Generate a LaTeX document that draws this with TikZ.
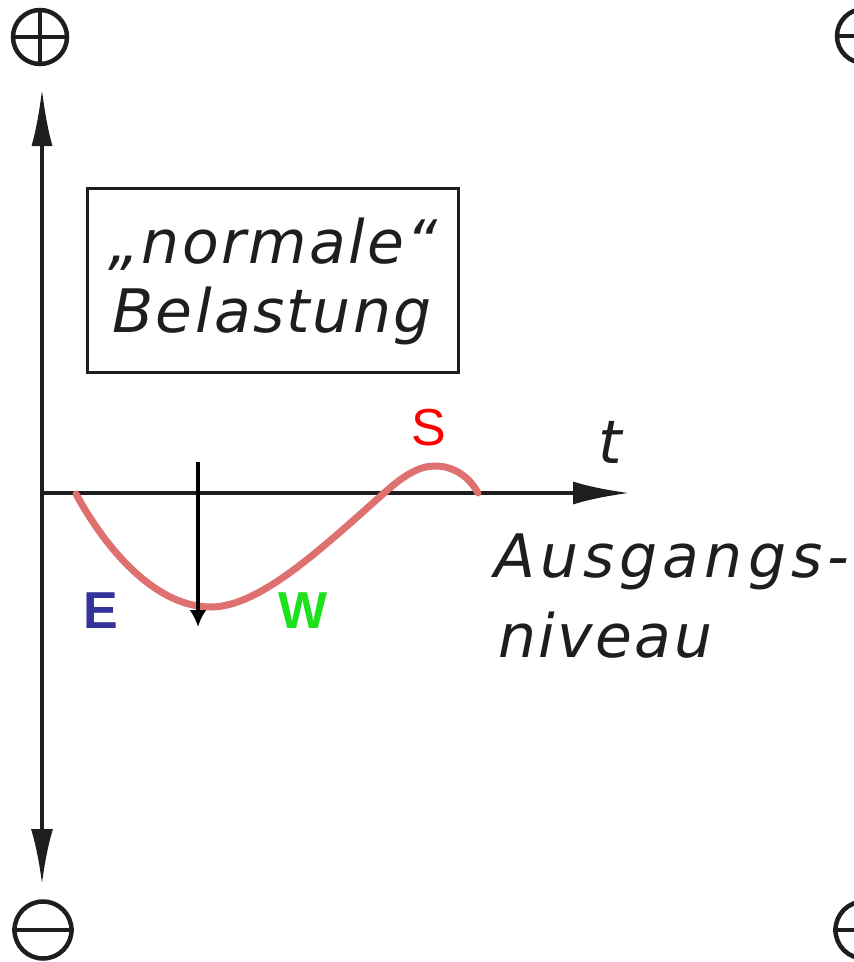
\documentclass[tikz,border=0pt]{standalone}
\usepackage{fontspec}
\usetikzlibrary{arrows.meta}
\newfontfamily\dejafont[LetterSpace=4]{DejaVu Sans}
\newfontfamily\dejawide[LetterSpace=8.5]{DejaVu Sans}
\newfontfamily\arialfont{Liberation Sans}
\definecolor{curvered}{RGB}{222,112,112}
\definecolor{eblue}{RGB}{51,51,153}
\definecolor{wgreen}{RGB}{30,225,30}
\definecolor{sred}{RGB}{255,0,0}
\definecolor{ink}{RGB}{30,30,30}
\tikzset{
  axis/.style={line width=4.5pt, ink},
  sym/.style={circle, draw=ink, line width=4.5pt, inner sep=0pt, minimum size=54pt},
  symbar/.style={line width=3.5pt, ink},
  labtext/.style={font=\dejafont\itshape\fontsize{60}{70}\selectfont, inner sep=0pt, text=ink},
  labwide/.style={font=\dejawide\itshape\fontsize{60}{70}\selectfont, inner sep=0pt, text=ink},
  letterb/.style={font=\arialfont\bfseries\fontsize{52}{60}\selectfont, inner sep=0pt},
  letterr/.style={font=\arialfont\fontsize{52}{60}\selectfont, inner sep=0pt},
}
\begin{document}
\begin{tikzpicture}[x=1pt,y=-1pt]
\useasboundingbox (0,0) rectangle (854,962);
\clip (0,0) rectangle (854,962);
% symbols
\node[sym] (plus) at (40,37) {};
\draw[symbar] (plus.north) -- (plus.south);
\draw[symbar] (plus.west) -- (plus.east);
\node[sym, minimum size=57pt] (minus) at (43,930) {};
\draw[symbar] (minus.west) -- (minus.east);
\node[sym] (rminust) at (864,36) {};
\draw[symbar] (rminust.west) -- (rminust.east);
\node[sym, minimum size=57pt] (rminusb) at (864,930) {};
\draw[symbar] (rminusb.west) -- (rminusb.east);
% axes
\coordinate (o) at (42,493);
\coordinate (ytop) at (42,88);
\coordinate (ybot) at (42,885);
\coordinate (xend) at (630,493);
\draw[axis, -{Latex[length=58pt,width=21pt]}] (o) -- (ytop);
\draw[axis, -{Latex[length=56pt,width=22pt]}] (o) -- (ybot);
\draw[axis, -{Latex[length=57pt,width=23pt]}] (o) -- (xend);
% box
\node[draw=ink, line width=3pt, minimum width=371pt, minimum height=184pt, inner sep=0pt] (box) at (272.5,280) {};
\node[labtext, anchor=base west] (l1) at (108,263) {„normale“};
\node[labtext, anchor=base west] (l2) at (112,332) {Belastung};
% axis labels
\node[labtext, anchor=base west] (t) at (598,463) {t};
\node[labwide, anchor=base west] (aus) at (494,577) {Ausgangs-};
\node[labtext, anchor=base west] (niv) at (498,657) {niveau};
% curve
\draw[curvered, line width=7pt, line cap=round]
  (76,494) .. controls (115,565) and (165,608) .. (212,607)
  .. controls (260,606) and (320,550) .. (383,494)
  .. controls (405,474) and (420,466) .. (435,466)
  .. controls (455,466) and (470,478) .. (478,493);
% black arrow
\coordinate (as) at (198,462);
\coordinate (ae) at (198,627);
\draw[line width=4pt, -{Latex[length=17pt,width=17pt]}] (as) -- (ae);
% letters
\node[letterb, text=eblue, anchor=base west] (E) at (83,628) {E};
\node[letterb, text=wgreen, anchor=base west] (W) at (278,628) {W};
\node[letterr, text=sred, anchor=base west] (S) at (411,445) {S};
\end{tikzpicture}
\end{document}
